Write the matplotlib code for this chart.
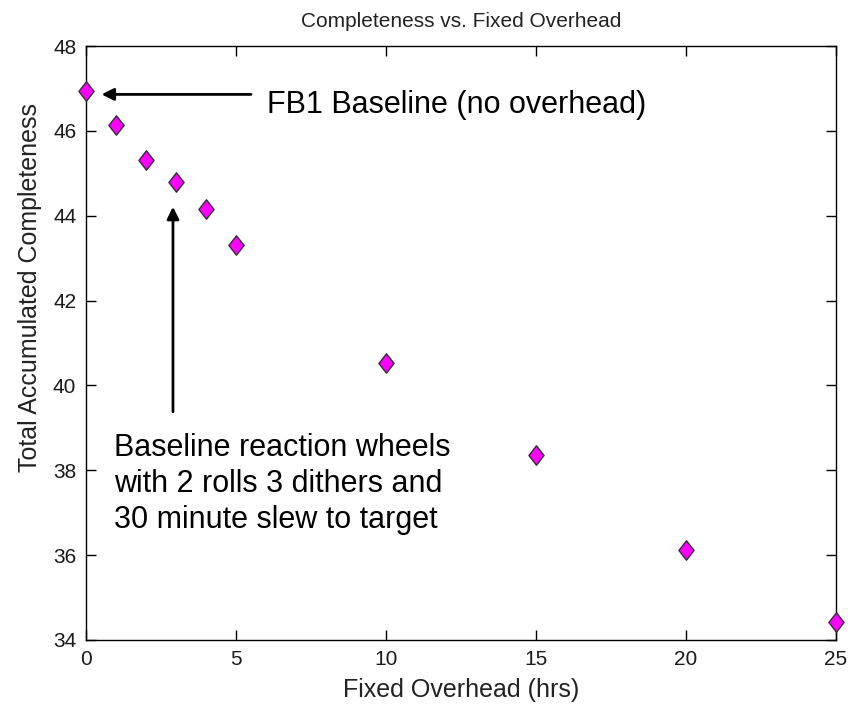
import matplotlib.pyplot as plt
from matplotlib.path import Path

plt.rcParams['font.family'] = ['Liberation Sans', 'DejaVu Sans']

overhead = [0, 1, 2, 3, 4, 5, 10, 15, 20, 25]
completeness = [46.95, 46.13, 45.32, 44.79, 44.15, 43.32, 40.54, 38.37, 36.13, 34.42]
x_ticks = [0, 5, 10, 15, 20, 25]
y_ticks = [34, 36, 38, 40, 42, 44, 46, 48]

# wider diamond than matplotlib's 'd'
diamond = Path([(0, 1), (0.78, 0), (0, -1), (-0.78, 0), (0, 1)],
               [Path.MOVETO, Path.LINETO, Path.LINETO, Path.LINETO, Path.CLOSEPOLY])

fig = plt.figure(figsize=(8.48, 7.06), dpi=100)
ax = fig.add_axes([0.1014, 0.0935, 0.8844, 0.8413])

ax.plot(overhead, completeness, linestyle='none', marker=diamond, markersize=14,
        markerfacecolor='#ff00ff', markeredgecolor='#303030', markeredgewidth=1,
        clip_on=False, zorder=5)

ax.set_xlim(0, 25)
ax.set_ylim(34, 48)
ax.set_xticks(x_ticks)
ax.set_yticks(y_ticks)
ax.tick_params(direction='in', length=7, width=1, top=True, right=True,
               labelsize=15, labelcolor='#1a1a1a')
ax.tick_params(axis='x', pad=7)
ax.tick_params(axis='y', pad=7)
for s in ax.spines.values():
    s.set_linewidth(1)

ax.set_title('Completeness vs. Fixed Overhead', fontsize=15, color='#222222', pad=14)
ax.set_xlabel('Fixed Overhead (hrs)', fontsize=18, color='#222222', labelpad=7)
ax.set_ylabel('Total Accumulated Completeness', fontsize=18, color='#222222')
ax.yaxis.set_label_coords(-0.058, 0.593)

arrow = dict(arrowstyle='-|>', lw=2, color='k', mutation_scale=18, shrinkA=0, shrinkB=0)
ax.annotate('', xy=(0.52, 46.86), xytext=(5.5, 46.86), arrowprops=arrow)
ax.text(6.05, 46.42, 'FB1 Baseline (no overhead)', fontsize=22, va='baseline', ha='left')

ax.annotate('', xy=(2.9, 44.21), xytext=(2.9, 39.38), arrowprops=arrow)
ax.text(0.93, 38.88, 'Baseline reaction wheels\nwith 2 rolls 3 dithers and\n30 minute slew to target',
        fontsize=22, va='top', ha='left', linespacing=1.26)

fig.savefig('out.png', dpi=100)
